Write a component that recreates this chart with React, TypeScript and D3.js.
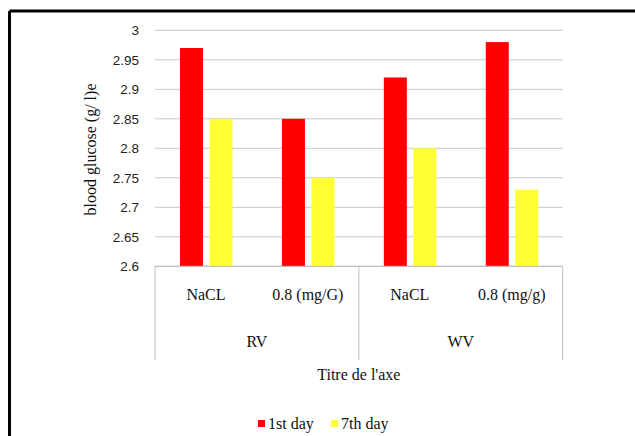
import React from "react";
import * as d3 from "d3";

const groups = ["RV", "WV"];
const categories = ["NaCL", "0.8 (mg/G)", "NaCL", "0.8 (mg/g)"];
const categoryGroup = [0, 0, 1, 1];
const seriesNames = ["1st day", "7th day"];
const seriesColors = ["#ff0000", "#ffff33"];
const day1 = [2.97, 2.85, 2.92, 2.98];
const day7 = [2.85, 2.75, 2.8, 2.73];
const yTicks = [2.6, 2.65, 2.7, 2.75, 2.8, 2.85, 2.9, 2.95, 3];

const W = 635;
const H = 436;
const left = 155;
const right = 562.7;
const top = 30.3;
const bottom = 266.3;

export default function App() {
  const y = d3.scaleLinear().domain([2.6, 3]).range([bottom, top]);
  const x = d3
    .scaleBand<number>()
    .domain(categories.map((_, i) => i))
    .range([left, right]);
  const inner = d3
    .scaleBand<number>()
    .domain([0, 1])
    .range([0, 52.5])
    .paddingInner(0.22);
  const series = [day1, day7];
  const serif = "'Liberation Serif', 'Times New Roman', serif";
  const sans = "'Liberation Sans', Arial, sans-serif";
  const groupBounds = [left, x(2)!, right];
  const fs = 16;

  return (
    <svg
      width={W}
      height={H}
      style={{ position: "absolute", left: 0, top: 0, background: "#fff" }}
    >
      <rect x={0} y={0} width={W} height={H} fill="#fff" />
      {/* frame */}
      <line x1={9.5} y1={11} x2={W} y2={11} stroke="#000" strokeWidth={3} />
      <line x1={9.5} y1={11} x2={9.5} y2={H} stroke="#000" strokeWidth={3} />
      {/* gridlines */}
      {yTicks.map((t) => (
        <line
          key={t}
          x1={left}
          x2={right}
          y1={y(t)}
          y2={y(t)}
          stroke="#c8c8c8"
          strokeWidth={1}
        />
      ))}
      {/* tick labels */}
      {yTicks.map((t) => (
        <text
          key={"l" + t}
          x={139}
          y={y(t)}
          dy="0.35em"
          textAnchor="end"
          fontFamily={sans}
          fontSize={13.5}
          fill="#222"
        >
          {d3.format("")(t)}
        </text>
      ))}
      {/* bars */}
      {series.map((vals, s) =>
        vals.map((v, i) => (
          <rect
            key={s + "-" + i}
            x={x(i)! + 25 + inner(s)!}
            y={y(v)}
            width={inner.bandwidth()}
            height={y(2.6) - y(v)}
            fill={seriesColors[s]}
          />
        ))
      )}
      {/* category axis */}
      <line x1={left} x2={right} y1={bottom} y2={bottom} stroke="#bdbdbd" />
      {groupBounds.map((gx, i) => (
        <line
          key={"gb" + i}
          x1={gx}
          x2={gx}
          y1={bottom}
          y2={360}
          stroke="#bdbdbd"
        />
      ))}
      {categories.map((c, i) => (
        <text
          key={"c" + i}
          x={x(i)! + x.bandwidth() / 2}
          y={294}
          dy="0.35em"
          textAnchor="middle"
          fontFamily={serif}
          fontSize={fs}
          fill="#111"
        >
          {c}
        </text>
      ))}
      {groups.map((g, gi) => {
        const idx = categoryGroup
          .map((cg, i) => (cg === gi ? i : -1))
          .filter((i) => i >= 0);
        const x0 = x(idx[0])!;
        const x1 = x(idx[idx.length - 1])! + x.bandwidth();
        return (
          <text
            key={g}
            x={(x0 + x1) / 2}
            y={341}
            dy="0.35em"
            textAnchor="middle"
            fontFamily={serif}
            fontSize={fs}
            fill="#111"
          >
            {g}
          </text>
        );
      })}
      <text
        x={(left + right) / 2}
        y={374}
        dy="0.35em"
        textAnchor="middle"
        fontFamily={serif}
        fontSize={fs}
        fill="#111"
      >
        Titre de l'axe
      </text>
      {/* y label */}
      <text
        transform={`translate(90, 149.5) rotate(-90)`}
        textAnchor="middle"
        dy="0.35em"
        fontFamily={serif}
        fontSize={16}
        fill="#111"
      >
        blood glucose (g/ l)e
      </text>
      {/* legend */}
      {seriesNames.map((n, s) => {
        const lx = s === 0 ? 258 : 331;
        return (
          <g key={n}>
            <rect
              x={lx}
              y={420}
              width={7}
              height={7}
              fill={seriesColors[s]}
            />
            <text
              x={lx + 10}
              y={423}
              dy="0.35em"
              fontFamily={serif}
              fontSize={16}
              fill="#111"
            >
              {n}
            </text>
          </g>
        );
      })}
    </svg>
  );
}
